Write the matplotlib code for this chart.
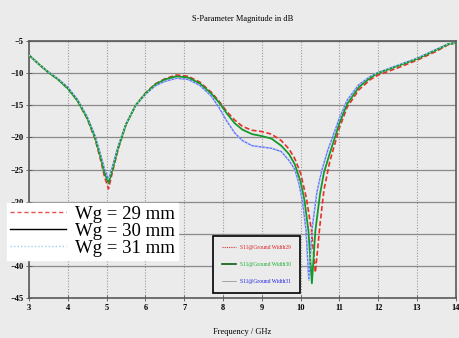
import numpy as np
import matplotlib
matplotlib.use('Agg')
import matplotlib.pyplot as plt
from matplotlib.lines import Line2D

# frecuencias (GHz) y magnitud S11 (dB)
f29 = [3.0, 3.25, 3.5, 3.75, 4.0, 4.25, 4.5, 4.7, 4.85, 4.95, 5.05, 5.15, 5.3, 5.5, 5.75,
       6.0, 6.25, 6.5, 6.8, 7.1, 7.4, 7.7, 7.9, 8.1, 8.3, 8.5, 8.75, 9.0, 9.25, 9.5,
       9.7, 9.85, 10.0, 10.15, 10.28, 10.38, 10.5, 10.6, 10.75, 11.0, 11.2, 11.5, 11.8,
       12.0, 12.5, 13.0, 13.5, 13.8, 14.0]
s29 = [-7.2, -8.6, -9.9, -11.0, -12.4, -14.3, -17.1, -20.2, -23.6, -26.2, -28.0, -25.4, -21.8, -18.0, -15.0,
       -13.1, -11.7, -10.9, -10.3, -10.5, -11.4, -13.0, -14.4, -16.0, -17.3, -18.3, -18.9, -19.1, -19.5, -20.5,
       -21.8, -23.3, -25.6, -29.5, -34.5, -41.0, -33.5, -28.2, -23.8, -18.5, -15.3, -12.6, -11.0,
       -10.3, -9.2, -8.0, -6.6, -5.6, -5.3]

f30 = [3.0, 3.25, 3.5, 3.75, 4.0, 4.25, 4.5, 4.7, 4.85, 4.95, 5.05, 5.15, 5.3, 5.5, 5.75,
       6.0, 6.25, 6.5, 6.8, 7.1, 7.4, 7.7, 7.9, 8.1, 8.3, 8.5, 8.75, 9.0, 9.25, 9.5,
       9.7, 9.85, 10.0, 10.1, 10.2, 10.29, 10.38, 10.5, 10.6, 10.75, 11.0, 11.2, 11.5, 11.8,
       12.0, 12.5, 13.0, 13.5, 13.8, 14.0]
s30 = [-7.2, -8.6, -9.9, -11.0, -12.4, -14.3, -17.0, -20.0, -23.2, -25.6, -27.1, -25.0, -21.6, -18.0, -15.0,
       -13.2, -11.8, -11.0, -10.5, -10.7, -11.6, -13.2, -14.6, -16.3, -17.8, -18.8, -19.5, -19.8, -20.2, -21.3,
       -22.6, -24.2, -26.9, -29.8, -34.5, -42.7, -34.5, -28.8, -25.5, -22.5, -17.8, -14.8, -12.2, -10.7,
       -10.0, -8.9, -7.8, -6.4, -5.5, -5.3]

f31 = [3.0, 3.25, 3.5, 3.75, 4.0, 4.25, 4.5, 4.7, 4.85, 4.95, 5.05, 5.15, 5.3, 5.5, 5.75,
       6.0, 6.25, 6.5, 6.8, 7.1, 7.4, 7.7, 7.9, 8.1, 8.3, 8.5, 8.75, 9.0, 9.25, 9.5,
       9.7, 9.85, 9.95, 10.05, 10.14, 10.21, 10.3, 10.42, 10.55, 10.7, 11.0, 11.2, 11.5, 11.8,
       12.0, 12.5, 13.0, 13.5, 13.8, 14.0]
s31 = [-7.2, -8.6, -9.8, -10.9, -12.2, -14.1, -16.8, -19.7, -22.8, -25.0, -26.6, -24.6, -21.3, -17.9, -15.0,
       -13.3, -12.0, -11.3, -10.8, -11.0, -11.9, -13.6, -15.4, -17.5, -19.3, -20.5, -21.3, -21.5, -21.7, -22.2,
       -23.6, -25.0, -27.0, -30.0, -34.5, -42.2, -34.0, -28.5, -25.0, -22.0, -17.0, -14.2, -11.8, -10.5,
       -9.9, -8.8, -7.7, -6.3, -5.5, -5.3]

xticks = list(range(3, 15))
yticks = list(range(-45, -4, 5))

plt.rcParams['font.family'] = ['Liberation Serif', 'DejaVu Serif']
fondo = '#ebebeb'

fig = plt.figure(figsize=(4.6, 3.38), dpi=100, facecolor=fondo)
ax = fig.add_axes([0.063, 0.118, 0.928, 0.761], facecolor=fondo)

ax.plot(f29, s29, color='#e8302a', lw=1.2, ls=(0, (3, 1.5)), zorder=3)
ax.plot(f30, s30, color='#139a2e', lw=1.3, zorder=4)
ax.plot(f31, s31, color='#6d6dff', lw=1.0, zorder=2)
ax.plot(f31, s31, color='#a8d8ee', lw=1.0, ls=':', zorder=5)

ax.set_xlim(3, 14)
ax.set_ylim(-45, -5)
ax.set_xticks(xticks)
ax.set_yticks(yticks)
ax.tick_params(labelsize=6, direction='inout', length=4, width=0.6, color='#555555', pad=2)
for lab in ax.get_xticklabels() + ax.get_yticklabels():
    lab.set_fontweight('bold')

ax.yaxis.grid(True, color='#8a8a8a', lw=0.9, ls='-')
ax.xaxis.grid(True, color='#9a9a9a', lw=0.8, ls=(0, (1, 1.5)))
ax.set_axisbelow(True)
for s in ax.spines.values():
    s.set_color('#5a5a5a')
    s.set_linewidth(1.2)

ax.set_title('S-Parameter Magnitude in dB', fontsize=6, pad=14)
ax.set_xlabel('Frequency / GHz', fontsize=6, labelpad=12)

# leyenda grande (blanca)
h1 = [Line2D([], [], color='#e85050', lw=1.0, ls=(0, (3, 2))),
      Line2D([], [], color='black', lw=1.0),
      Line2D([], [], color='#9ccfe6', lw=1.0, ls=(0, (1, 1.5)))]
leg1 = fig.legend(h1, ['Wg = 29 mm', 'Wg = 30 mm', 'Wg = 31 mm'],
                  loc='upper left', bbox_to_anchor=(0.015, 0.40),
                  fontsize=13.5, frameon=True, facecolor='white', edgecolor='white',
                  framealpha=1, fancybox=False, handlelength=3.0, handletextpad=0.5,
                  labelspacing=0.0, borderpad=0.15, borderaxespad=0)
leg1.set_zorder(10)

# leyenda pequeña (recuadro negro)
h2 = [Line2D([], [], color='#e03030', lw=0.8, ls=(0, (1, 1))),
      Line2D([], [], color='#0c5a12', lw=1.2),
      Line2D([], [], color='#999999', lw=0.6)]
leg2 = ax.legend(h2, ['S11@Ground Width29', 'S11@Ground Width30', 'S11@Ground Width31'],
                 loc='upper left', bbox_to_anchor=(213 / 460, 1 - 236 / 338),
                 bbox_transform=fig.transFigure,
                 fontsize=4, frameon=True, facecolor=fondo, edgecolor='black',
                 framealpha=1, fancybox=False, handlelength=2.6, handletextpad=0.6,
                 labelspacing=2.2, borderpad=1.6, borderaxespad=0)
leg2.get_frame().set_linewidth(1.2)
for txt, c in zip(leg2.get_texts(), ['#e02020', '#18b030', '#2020e0']):
    txt.set_color(c)

fig.savefig('out.png', dpi=100, facecolor=fondo)
